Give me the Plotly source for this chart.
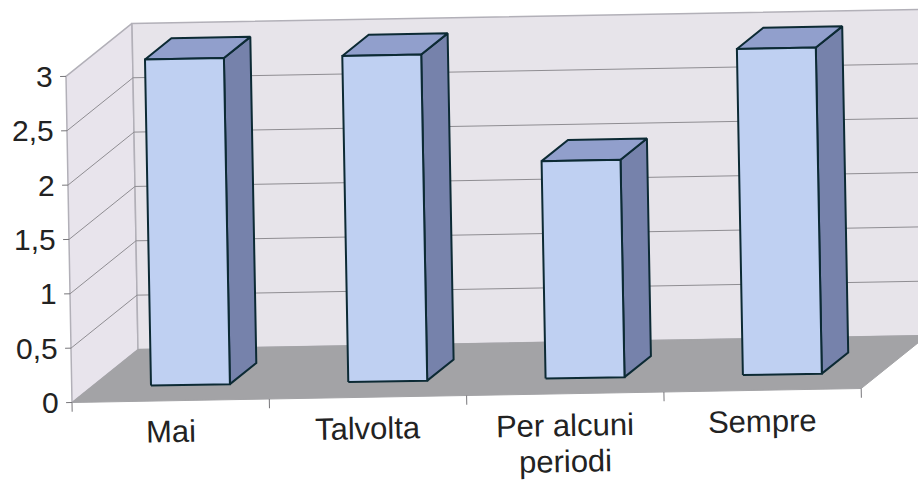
import plotly.graph_objects as go

categories = ["Mai", "Talvolta", "Per alcuni<br>periodi", "Sempre"]
values = [3, 3, 2, 3]
y_ticks = [0, 0.5, 1, 1.5, 2, 2.5, 3]
y_tick_labels = ["0", "0,5", "1", "1,5", "2", "2,5", "3"]

# Oblique projection of the scanned 3D chart, in axis units
PX_X, PX_Y = 197.3, 108.7
SKEW_XY, SKEW_YX = -2 / PX_X, 3.5 / PX_Y
DEPTH_X, DEPTH_Y = 66 / PX_X, 53 / PX_Y
BAR_LO, BAR_HI, DEPTH_LO, DEPTH_HI = 0.3, 0.7, 0.3, 0.7
N = len(categories)
TOP = max(y_ticks)


def project(u, v, d):
    return u + SKEW_XY * v + DEPTH_X * d, v + SKEW_YX * u + DEPTH_Y * d


def poly(points, fill, line_color, line_width):
    xs, ys = zip(*[project(*p) for p in points + points[:1]])
    return go.Scatter(x=xs, y=ys, mode="lines", fill="toself", fillcolor=fill,
                      line=dict(color=line_color, width=line_width),
                      hoverinfo="skip", showlegend=False)


def segments(pairs, color, width):
    xs, ys = [], []
    for a, b in pairs:
        for p in (a, b):
            x, y = project(*p)
            xs.append(x)
            ys.append(y)
        xs.append(None)
        ys.append(None)
    return go.Scatter(x=xs, y=ys, mode="lines", line=dict(color=color, width=width),
                      hoverinfo="skip", showlegend=False)


fig = go.Figure()
WALL_EDGE = "#b2b0b8"
fig.add_trace(poly([(0, 0, 0), (0, TOP, 0), (0, TOP, 1), (0, 0, 1)], "#e8e4ec", WALL_EDGE, 1.5))
fig.add_trace(poly([(0, 0, 1), (0, TOP, 1), (N, TOP, 1), (N, 0, 1)], "#e7e4ea", WALL_EDGE, 1.5))
fig.add_trace(poly([(0, 0, 0), (N, 0, 0), (N, 0, 1), (0, 0, 1)], "#a3a3a6", "#a3a3a6", 1))

grid = []
for v in y_ticks[1:-1]:
    grid.append(((0, v, 0), (0, v, 1)))
    grid.append(((0, v, 1), (N, v, 1)))
fig.add_trace(segments(grid, "#8f8d92", 1))

ticks = [((0, v, 0), (-0.03, v, 0)) for v in y_ticks]
ticks += [((u, 0, 0), (u, -0.085, 0)) for u in range(N + 1)]
fig.add_trace(segments(ticks, "#77767a", 1))

OUTLINE = "#0c2a34"
for i, val in enumerate(values):
    a, b = i + BAR_LO, i + BAR_HI
    d0, d1 = DEPTH_LO, DEPTH_HI
    fig.add_trace(poly([(b, 0, d0), (b, val, d0), (b, val, d1), (b, 0, d1)], "#7682ab", OUTLINE, 2))
    fig.add_trace(poly([(a, val, d0), (b, val, d0), (b, val, d1), (a, val, d1)], "#919fcc", OUTLINE, 2))
    fig.add_trace(poly([(a, 0, d0), (b, 0, d0), (b, val, d0), (a, val, d0)], "#bfd0f2", OUTLINE, 2))

FAMILY = "Liberation Sans, Arial, sans-serif"
Y_FONT = dict(family=FAMILY, size=30, color="#222222")
X_FONT = dict(family=FAMILY, size=31, color="#222222")
for v, label in zip(y_ticks, y_tick_labels):
    x, y = project(0, v, 0)
    fig.add_annotation(x=x, y=y, text=label, showarrow=False, xanchor="right", yanchor="middle",
                       xshift=-11, font=Y_FONT, textangle=0)
for i, cat in enumerate(categories):
    x, y = project(i + 0.5, 0, 0)
    for line_no, line in enumerate(cat.split("<br>")):
        fig.add_annotation(x=x, y=y, text=line, showarrow=False, xanchor="center", yanchor="top",
                           yshift=-11 - 36 * line_no, font=X_FONT, textangle=-1)

ORIGIN_X, ORIGIN_Y = 72, 402.5
W, H = 918, 482
fig.update_layout(
    width=W, height=H, margin=dict(l=0, r=0, t=0, b=0),
    paper_bgcolor="#ffffff", plot_bgcolor="#ffffff", showlegend=False,
    xaxis=dict(range=[-ORIGIN_X / PX_X, (W - ORIGIN_X) / PX_X], visible=False, fixedrange=True),
    yaxis=dict(range=[-(H - ORIGIN_Y) / PX_Y, ORIGIN_Y / PX_Y], visible=False, fixedrange=True),
)
fig.write_html("out.html", config=dict(displayModeBar=False),
               post_script="document.body.style.margin='0';document.body.style.overflow='hidden';")
